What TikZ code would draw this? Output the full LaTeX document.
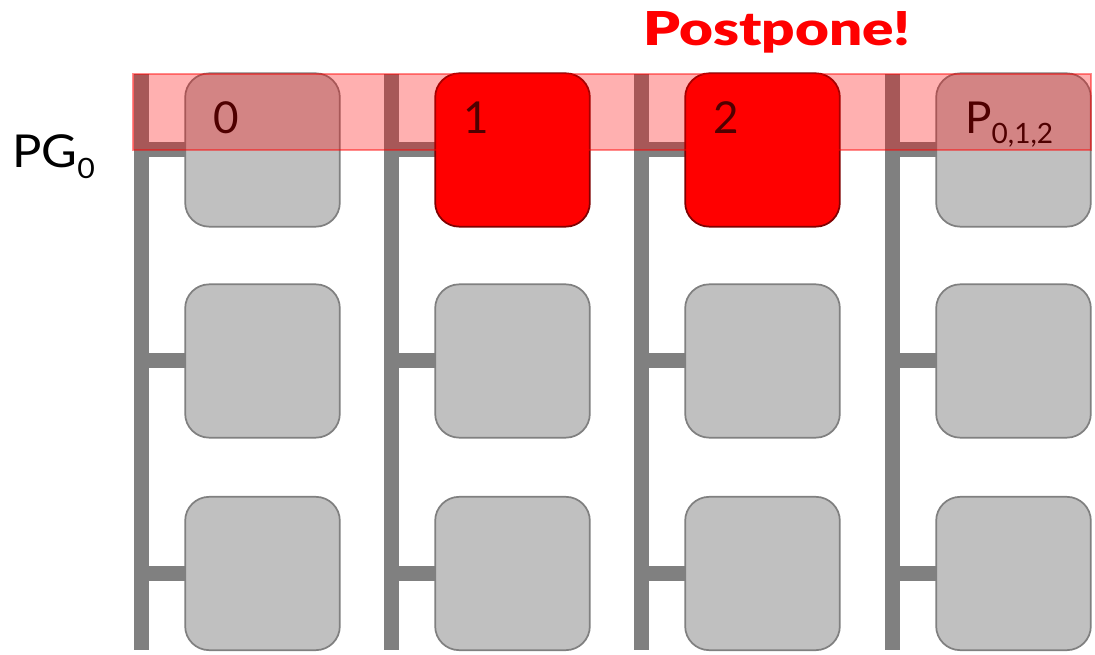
\documentclass[tikz,border=0pt]{standalone}
\usepackage{fontspec}
\setmainfont{Lato}
\newfontfamily\heavyfont{Lato Black}
\definecolor{busgray}{RGB}{128,128,128}
\definecolor{cellgray}{RGB}{192,192,192}
\definecolor{hotedge}{RGB}{128,0,0}
% subscript set a little lower and smaller than the main text
\newcommand{\lowsub}[2]{\raisebox{-#2}{\fontsize{21}{24}\selectfont #1}}
\begin{document}
\begin{tikzpicture}[x=0.75pt,y=-0.75pt,
  bus/.style={draw=busgray, line width=11.25pt},
  cell/.style={draw=busgray, fill=cellgray, line width=1.3pt, rounded corners=18pt,
    minimum width=116pt, minimum height=115pt, inner sep=0pt},
  hotcell/.style={cell, draw=hotedge, fill=red},
  celllabel/.style={anchor=base west, inner sep=0pt, font=\fontsize{33}{36}\selectfont},
  band/.style={fill=red, fill opacity=0.31, draw=red, draw opacity=0.45, line width=0.8pt}]
\useasboundingbox (0,0) rectangle (1095,655);

% vertical buses, one per column
\foreach \i/\x in {1/141,2/391,3/641,4/892}{
  \coordinate (top\i) at (\x,74);
  \coordinate (bot\i) at (\x,650);
  \draw[bus] (top\i) -- (bot\i);
}

% stubs joining each cell to its bus
\foreach \i/\x in {1/262.5,2/512.5,3/762.5,4/1013.5}{
  \foreach \j/\y in {1/150,2/361,3/573.5}{
    \draw[bus] (\x-77,\y) -- (top\i |- {(0,\y)});
  }
}
% grid of processing cells
\foreach \i/\x in {1/262.5,2/512.5,3/762.5,4/1013.5}{
  \foreach \j/\y in {2/361,3/573.5}{
    \node[cell] (c\i\j) at (\x,\y) {};
  }
}
\node[cell]    (c11) at (262.5,150) {};
\node[hotcell] (c21) at (512.5,150) {};
\node[hotcell] (c31) at (762.5,150) {};
\node[cell]    (c41) at (1013.5,150) {};

% cell labels in the first row
\node[celllabel] (l0) at (213,134) {0};
\node[celllabel] (l1) at (463,134) {1};
\node[celllabel] (l2) at (713,134) {2};
\node[celllabel] (lp) at (965,134) {P\lowsub{0,1,2}{7pt}};

% highlighted parity group
\path[band] (133,74) rectangle (1091,150);

\node[anchor=base west, inner sep=0pt, font=\fontsize{34}{36}\selectfont] (pg) at (12,168) {\scalebox{1.08}[1]{PG\lowsub{0}{8pt}}};
\node[anchor=base, inner sep=0pt, text=red, font=\fontsize{35}{38}\selectfont\heavyfont] (pp) at (777,46) {\scalebox{1.25}[1]{Postpone!}};
\end{tikzpicture}
\end{document}
